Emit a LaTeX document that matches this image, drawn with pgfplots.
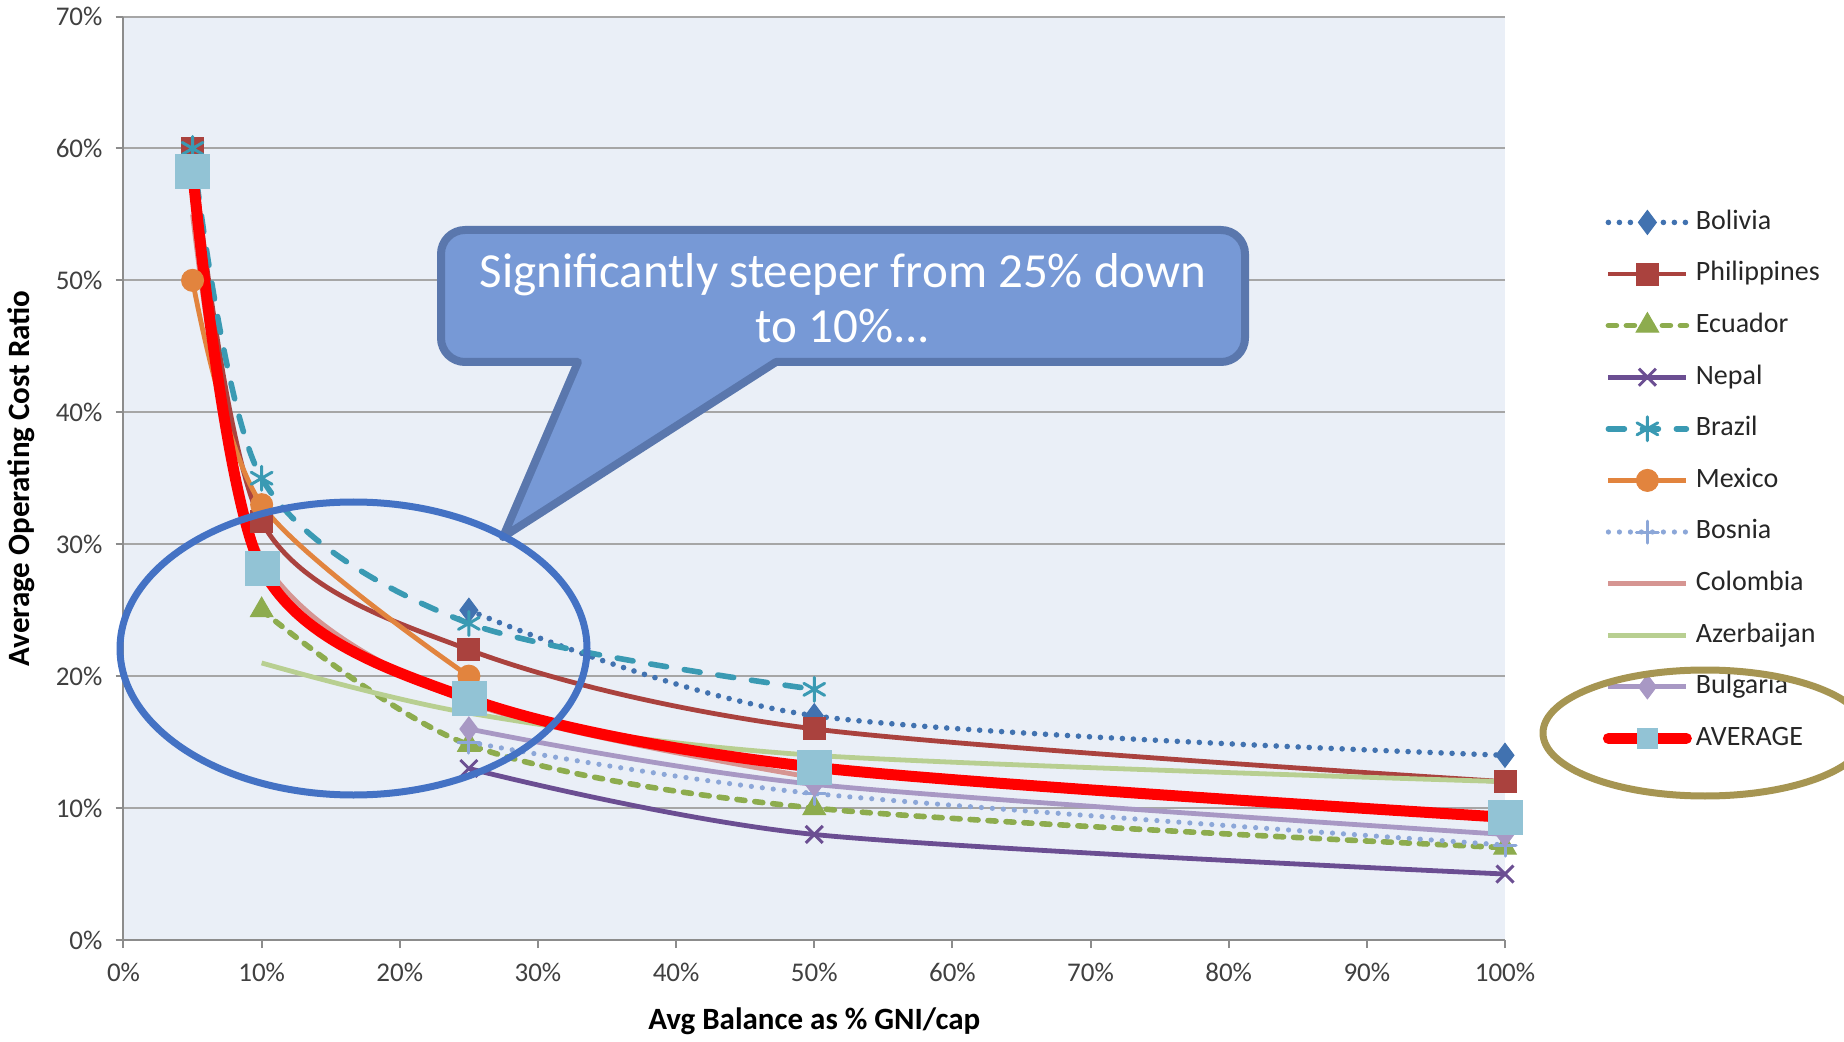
\documentclass[border=0pt]{standalone}
\usepackage{fontspec}
\setmainfont{Carlito}
\usepackage{pgfplots}
\pgfplotsset{compat=1.18}

\definecolor{plotbg}{HTML}{EAEFF7}
\definecolor{gridgray}{HTML}{A6A6A6}
\definecolor{axisgray}{HTML}{8C8C8C}
\definecolor{ticktext}{HTML}{404040}
\definecolor{cBol}{HTML}{4172B0}
\definecolor{cPhi}{HTML}{AA423E}
\definecolor{cEcu}{HTML}{8DAC4E}
\definecolor{cNep}{HTML}{6B4E92}
\definecolor{cBra}{HTML}{3A9AB3}
\definecolor{cMex}{HTML}{E2843E}
\definecolor{cBos}{HTML}{8CA7D8}
\definecolor{cCol}{HTML}{D69592}
\definecolor{cAze}{HTML}{B8CF91}
\definecolor{cBul}{HTML}{A898C4}
\definecolor{cAvgM}{HTML}{92C3D5}
\definecolor{callfill}{HTML}{7799D6}
\definecolor{calldraw}{HTML}{5A77AD}
\definecolor{ringblue}{HTML}{4472C4}
\definecolor{ringgold}{HTML}{A69552}

\pgfplotsset{
  ser/.style={smooth, tension=0.5, line width=2.4pt},
}

\begin{document}
\begin{tikzpicture}
\useasboundingbox (0,0) rectangle (922pt,520.5pt);
\begin{axis}[
  at={(61.75pt,50.5pt)}, anchor=south west,
  scale only axis, width=690.75pt, height=461.75pt,
  xmin=0, xmax=100, ymin=0, ymax=70,
  clip=false,
  axis background/.style={fill=plotbg},
  axis x line*=bottom, axis y line*=left,
  axis line style={draw=axisgray, line width=1pt},
  ymajorgrids, grid style={draw=gridgray, line width=1pt},
  tick align=outside, major tick length=4pt,
  tick style={draw=axisgray, line width=1pt},
  xtick={0,10,...,100}, ytick={0,10,...,70},
  xticklabels={0\%,10\%,20\%,30\%,40\%,50\%,60\%,70\%,80\%,90\%,100\%},
  yticklabels={0\%,10\%,20\%,30\%,40\%,50\%,60\%,70\%},
  xticklabel style={font=\fontsize{13.5}{16}\selectfont, text=ticktext, yshift=-4pt},
  yticklabel style={font=\fontsize{13.5}{16}\selectfont, text=ticktext, xshift=-3pt},
  xlabel={Avg Balance as \% GNI/cap},
  ylabel={Average Operating Cost Ratio},
  xlabel style={font=\bfseries\fontsize{15.5}{18}\selectfont, at={(axis description cs:0.5,-0.0877)}, anchor=center},
  ylabel style={font=\bfseries\fontsize{15.5}{18}\selectfont, at={(axis description cs:-0.0742,0.5)}, anchor=center},
  legend cell align=left,
  legend style={at={(axis description cs:1,1)}, anchor=north west,
    xshift=48.75pt, yshift=-94.35pt,
    draw=none, fill=none, inner sep=0pt, row sep=9pt,
    font=\fontsize{14}{16.8}\selectfont, text=black!85,
    nodes={text height=9.8pt, text depth=3pt, inner sep=2pt}},
  legend image code/.code={\draw[mark repeat=2,mark phase=2,#1] plot coordinates {(0pt,0pt) (19.5pt,0pt) (39pt,0pt)};},
]
% Bolivia
\addplot[ser, cBol, line width=2.8pt, dash pattern=on 0pt off 5.5pt, line cap=round,
  mark=diamond*, mark size=6pt, mark options={solid, fill=cBol, draw=cBol, line width=0.5pt}]
  coordinates {(25,25) (50,17) (100,14)};
\addlegendentry{Bolivia}
% Philippines
\addplot[ser, cPhi, mark=square*, mark size=5.5pt, mark options={solid, fill=cPhi, draw=cPhi, line width=0.5pt}]
  coordinates {(5,60) (10,31.7) (25,22) (50,16) (100,12)};
\addlegendentry{Philippines}
% Ecuador
\addplot[ser, cEcu, line width=2.8pt, dash pattern=on 4pt off 5pt, line cap=round,
  mark=triangle*, mark size=6.5pt, mark options={solid, fill=cEcu, draw=cEcu, line width=0.5pt}]
  coordinates {(10,25) (25,14.8) (50,10) (100,7)};
\addlegendentry{Ecuador}
% Nepal
\addplot[ser, cNep, mark=x, mark size=6pt, mark options={solid, draw=cNep, line width=1.5pt}]
  coordinates {(25,13) (50,8) (100,5)};
\addlegendentry{Nepal}
% Brazil
\addplot[ser, cBra, line width=2.8pt, dash pattern=on 8pt off 9pt, line cap=round,
  mark=asterisk, mark size=6pt, mark options={solid, draw=cBra, line width=1.5pt}]
  coordinates {(5,60) (10,35) (25,24) (50,19)};
\addlegendentry{Brazil}
% Mexico
\addplot[ser, cMex, mark=*, mark size=5.5pt, mark options={solid, fill=cMex, draw=cMex, line width=0.5pt}]
  coordinates {(5,50) (10,33) (25,20)};
\addlegendentry{Mexico}
% Bosnia
\addplot[ser, cBos, line width=2.6pt, dash pattern=on 0pt off 5.5pt, line cap=round,
  mark=+, mark size=5.5pt, mark options={solid, draw=cBos, line width=1.5pt}]
  coordinates {(25,15) (50,11.1) (100,7.2)};
\addlegendentry{Bosnia}
% Colombia
\addplot[ser, cCol] coordinates {(5,55) (10,29) (25,18) (50,12.3)};
\addlegendentry{Colombia}
% Azerbaijan
\addplot[ser, cAze] coordinates {(10,21) (25,17.2) (50,14) (100,12)};
\addlegendentry{Azerbaijan}
% Bulgaria
\addplot[ser, cBul, mark=diamond*, mark size=6pt, mark options={solid, fill=cBul, draw=cBul, line width=0.5pt}]
  coordinates {(25,16) (50,11.8) (100,8)};
\addlegendentry{Bulgaria}
% AVERAGE
\addplot[ser, red, line width=5.5pt, line cap=round, mark=square*, mark size=8.5pt,
  mark options={solid, fill=cAvgM, draw=cAvgM, line width=0.1pt},
  legend image post style={mark size=5pt}]
  coordinates {(5,58.3) (10,28.2) (25,18.3) (50,13.1) (100,9.3)};
\addlegendentry{AVERAGE}
\end{axis}

% annotations, laid out in pixel units from the top-left corner
\begin{scope}[shift={(0pt,520.5pt)}, x=0.5pt, y=-0.5pt]
  \draw[fill=callfill, draw=calldraw, line width=4pt, line join=round]
    (578,362) -- (503,537) -- (776,362)
    [rounded corners=12pt] -- (1245,362) -- (1245,230) -- (441,230) -- (441,362)
    [sharp corners] -- cycle;
  \node[anchor=base, text=white, font=\fontsize{24.5}{28}\selectfont, inner sep=0pt]
    at (843,288) {Significantly steeper from 25\% down};
  \node[anchor=base, text=white, font=\fontsize{24.5}{28}\selectfont, inner sep=0pt]
    at (843,343) {to 10\%...};
  \draw[ringblue, line width=3.5pt] (353.5,648.5) ellipse [x radius=233.5, y radius=146.5];
  \draw[ringgold, line width=3.5pt] (1705,733) ellipse [x radius=162, y radius=63];
\end{scope}
\end{tikzpicture}
\end{document}
